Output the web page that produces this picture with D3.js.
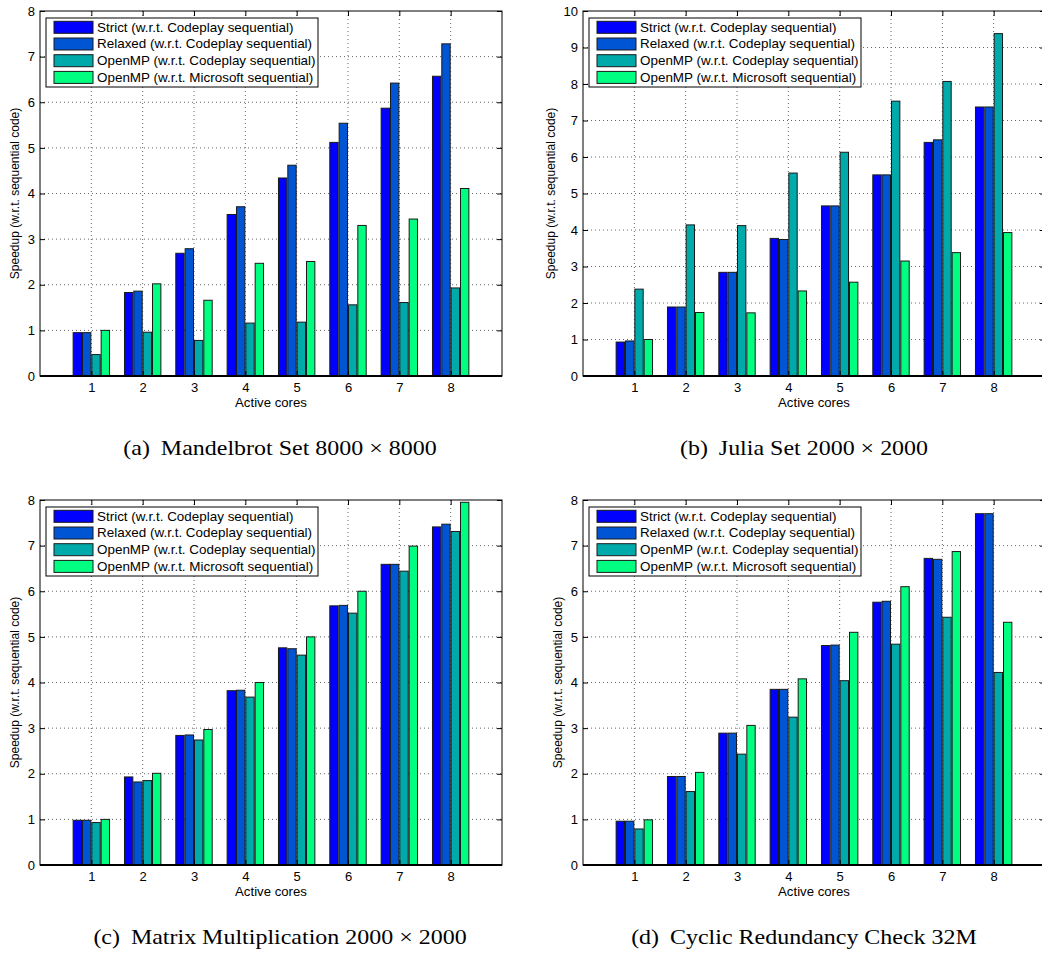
<!DOCTYPE html>
<html>
<head>
<meta charset="utf-8">
<script src="https://cdn.jsdelivr.net/npm/d3@7"></script>
<style>
  body { margin: 0; background: #fff; }
  svg text { font-family: "Liberation Sans", Arial, Helvetica, sans-serif; fill: #000; }
  svg text.caption { font-family: "Liberation Serif", "Times New Roman", Times, serif; }
</style>
</head>
<body>
<div id="container"></div>
<script>

/** DATA */
const cores = [1, 2, 3, 4, 5, 6, 7, 8];
const seriesNames = [
  "Strict (w.r.t. Codeplay sequential)",
  "Relaxed (w.r.t. Codeplay sequential)",
  "OpenMP (w.r.t. Codeplay sequential)",
  "OpenMP (w.r.t. Microsoft sequential)"
];
const yTicks8 = [0, 1, 2, 3, 4, 5, 6, 7, 8];
const yTicks10 = [0, 1, 2, 3, 4, 5, 6, 7, 8, 9, 10];

// (a) Mandelbrot Set
const mandelStrict       = [0.95, 1.83, 2.69, 3.54, 4.34, 5.12, 5.87, 6.57];
const mandelRelaxed      = [0.95, 1.86, 2.79, 3.71, 4.62, 5.54, 6.42, 7.28];
const mandelOmpCodeplay  = [0.47, 0.96, 0.78, 1.16, 1.18, 1.56, 1.61, 1.93];
const mandelOmpMicrosoft = [1.00, 2.02, 1.66, 2.47, 2.51, 3.30, 3.44, 4.11];

// (b) Julia Set
const juliaStrict       = [0.93, 1.89, 2.84, 3.77, 4.66, 5.51, 6.40, 7.37];
const juliaRelaxed      = [0.96, 1.89, 2.84, 3.74, 4.66, 5.51, 6.47, 7.37];
const juliaOmpCodeplay  = [2.38, 4.14, 4.12, 5.56, 6.13, 7.53, 8.07, 9.38];
const juliaOmpMicrosoft = [1.00, 1.74, 1.73, 2.33, 2.57, 3.15, 3.38, 3.93];

// (c) Matrix Multiplication
const matrixStrict       = [0.98, 1.93, 2.84, 3.82, 4.76, 5.68, 6.59, 7.41];
const matrixRelaxed      = [0.98, 1.82, 2.85, 3.83, 4.74, 5.69, 6.59, 7.47];
const matrixOmpCodeplay  = [0.93, 1.85, 2.74, 3.68, 4.60, 5.52, 6.44, 7.31];
const matrixOmpMicrosoft = [1.00, 2.01, 2.97, 4.00, 5.00, 6.00, 6.99, 7.95];

// (d) Cyclic Redundancy Check
const crcStrict       = [0.96, 1.94, 2.89, 3.85, 4.81, 5.76, 6.72, 7.70];
const crcRelaxed      = [0.96, 1.94, 2.89, 3.85, 4.82, 5.78, 6.70, 7.70];
const crcOmpCodeplay  = [0.79, 1.61, 2.43, 3.24, 4.04, 4.84, 5.43, 4.22];
const crcOmpMicrosoft = [0.99, 2.03, 3.06, 4.08, 5.10, 6.10, 6.87, 5.32];

/** CONSTANTS AND GLOBALS */
const width = 1042,
  height = 954,
  plotW = 462,
  plotH = 365,
  stretch = 1.1; // the source figure is a little wider than tall, text looks stretched

// matlab "winter" colormap, 4 steps
const colors = ["#0000ff", "#0055d4", "#00aaaa", "#00ff80"];

const panels = [
  { tag: "(a)", title: "Mandelbrot Set 8000 \u00d7 8000", left: 40, top: 11, yMax: 8, yTicks: yTicks8, yLabelOff: 25, capX: 280,
    series: [mandelStrict, mandelRelaxed, mandelOmpCodeplay, mandelOmpMicrosoft] },
  { tag: "(b)", title: "Julia Set 2000 \u00d7 2000", left: 583, top: 11, yMax: 10, yTicks: yTicks10, yLabelOff: 32, capX: 804,
    series: [juliaStrict, juliaRelaxed, juliaOmpCodeplay, juliaOmpMicrosoft] },
  { tag: "(c)", title: "Matrix Multiplication 2000 \u00d7 2000", left: 40, top: 500, yMax: 8, yTicks: yTicks8, yLabelOff: 25, capX: 280,
    series: [matrixStrict, matrixRelaxed, matrixOmpCodeplay, matrixOmpMicrosoft] },
  { tag: "(d)", title: "Cyclic Redundancy Check 32M", left: 583, top: 500, yMax: 8, yTicks: yTicks8, yLabelOff: 25, capX: 804,
    series: [crcStrict, crcRelaxed, crcOmpCodeplay, crcOmpMicrosoft] }
];

const slot = 0.182,   // spacing of bars inside a group (x units)
  barW = 0.163;       // bar width (x units)

let svg;

init();

function init() {
  svg = d3.select("#container")
    .append("svg")
    .attr("width", width)
    .attr("height", height);

  svg.append("rect").attr("width", width).attr("height", height).attr("fill", "#fff");

  panels.forEach(drawPanel);
}

function drawPanel(p) {
  const g = svg.append("g").attr("transform", `translate(${p.left},${p.top})`);

  const x = d3.scaleLinear().domain([0, 9]).range([0, plotW]);
  const y = d3.scaleLinear().domain([0, p.yMax]).range([plotH, 0]);

  // dotted grid
  g.append("g").selectAll("line")
    .data(p.yTicks.filter(t => t > 0 && t < p.yMax))
    .join("line")
    .attr("x1", 0).attr("x2", plotW)
    .attr("y1", d => y(d)).attr("y2", d => y(d))
    .attr("stroke", "#666").attr("stroke-dasharray", "1,3");

  g.append("g").selectAll("line")
    .data(cores)
    .join("line")
    .attr("x1", d => x(d)).attr("x2", d => x(d))
    .attr("y1", 0).attr("y2", plotH)
    .attr("stroke", "#666").attr("stroke-dasharray", "1,3");

  // bars
  const rows = cores.flatMap((c, i) => p.series.map((s, j) => ({ core: c, j: j, v: s[i] })));
  g.selectAll(".bar")
    .data(rows)
    .join("rect")
    .attr("class", "bar")
    .attr("x", d => x(d.core + (d.j - 1.5) * slot - barW / 2))
    .attr("width", x(barW) - x(0))
    .attr("y", d => y(d.v))
    .attr("height", d => y(0) - y(d.v))
    .attr("fill", d => colors[d.j])
    .attr("stroke", "#1a1a1a")
    .attr("stroke-width", 1);

  // axes, ticks pointing inward on all four sides
  g.append("g")
    .attr("transform", `translate(0,${plotH})`)
    .call(d3.axisBottom(x).tickValues(cores).tickSize(-5).tickPadding(7));
  g.append("g")
    .call(d3.axisTop(x).tickValues(cores).tickSize(-5).tickFormat(""));
  g.append("g")
    .call(d3.axisLeft(y).tickValues(p.yTicks).tickSize(-5).tickPadding(5));
  g.append("g")
    .attr("transform", `translate(${plotW},0)`)
    .call(d3.axisRight(y).tickValues(p.yTicks).tickSize(-5).tickFormat(""));

  g.selectAll(".domain").remove();
  g.selectAll(".tick line").attr("stroke", "#000");
  g.selectAll(".tick text").attr("font-size", 13).attr("fill", "#000")
    .attr("font-family", "Liberation Sans, Arial, sans-serif");

  // box
  g.append("rect")
    .attr("width", plotW).attr("height", plotH)
    .attr("fill", "none").attr("stroke", "#000").attr("stroke-width", 1);
  g.append("line")
    .attr("x1", 0).attr("x2", plotW)
    .attr("y1", y(0)).attr("y2", y(0))
    .attr("stroke", "#000").attr("stroke-width", 2);

  // axis titles
  g.append("text")
    .attr("transform", `translate(${plotW / 2},${plotH + 31}) scale(${stretch},1)`)
    .attr("text-anchor", "middle")
    .attr("font-size", 12)
    .text("Active cores");

  g.append("text")
    .attr("transform", `translate(${-p.yLabelOff},${plotH / 2}) rotate(-90)`)
    .attr("text-anchor", "middle")
    .attr("dy", "0.35em")
    .attr("font-size", 12)
    .text("Speedup (w.r.t. sequential code)");

  // legend
  const lg = g.append("g").attr("transform", "translate(6,7)");
  lg.append("rect")
    .attr("width", 272).attr("height", 69)
    .attr("fill", "#fff").attr("stroke", "#000").attr("stroke-width", 1);
  const items = lg.selectAll(".item")
    .data(seriesNames)
    .join("g")
    .attr("class", "item")
    .attr("transform", (d, i) => `translate(0,${9.3 + i * 16.7})`);
  items.append("rect")
    .attr("x", 8).attr("y", -6)
    .attr("width", 39).attr("height", 12)
    .attr("fill", (d, i) => colors[i])
    .attr("stroke", "#1a1a1a");
  items.append("text")
    .attr("transform", `translate(51,0) scale(${stretch + 0.02},1)`)
    .attr("dy", "0.35em")
    .attr("font-size", 12)
    .text(d => d);

  // sub-caption
  const cap = svg.append("text")
    .attr("class", "caption")
    .attr("transform", `translate(${p.capX},${p.top + plotH + 79}) scale(${stretch - 0.01},1)`)
    .attr("text-anchor", "middle")
    .attr("font-size", 22);
  cap.append("tspan").text(p.tag);
  cap.append("tspan").attr("dx", 10).text(p.title);
}
</script>
</body>
</html>
